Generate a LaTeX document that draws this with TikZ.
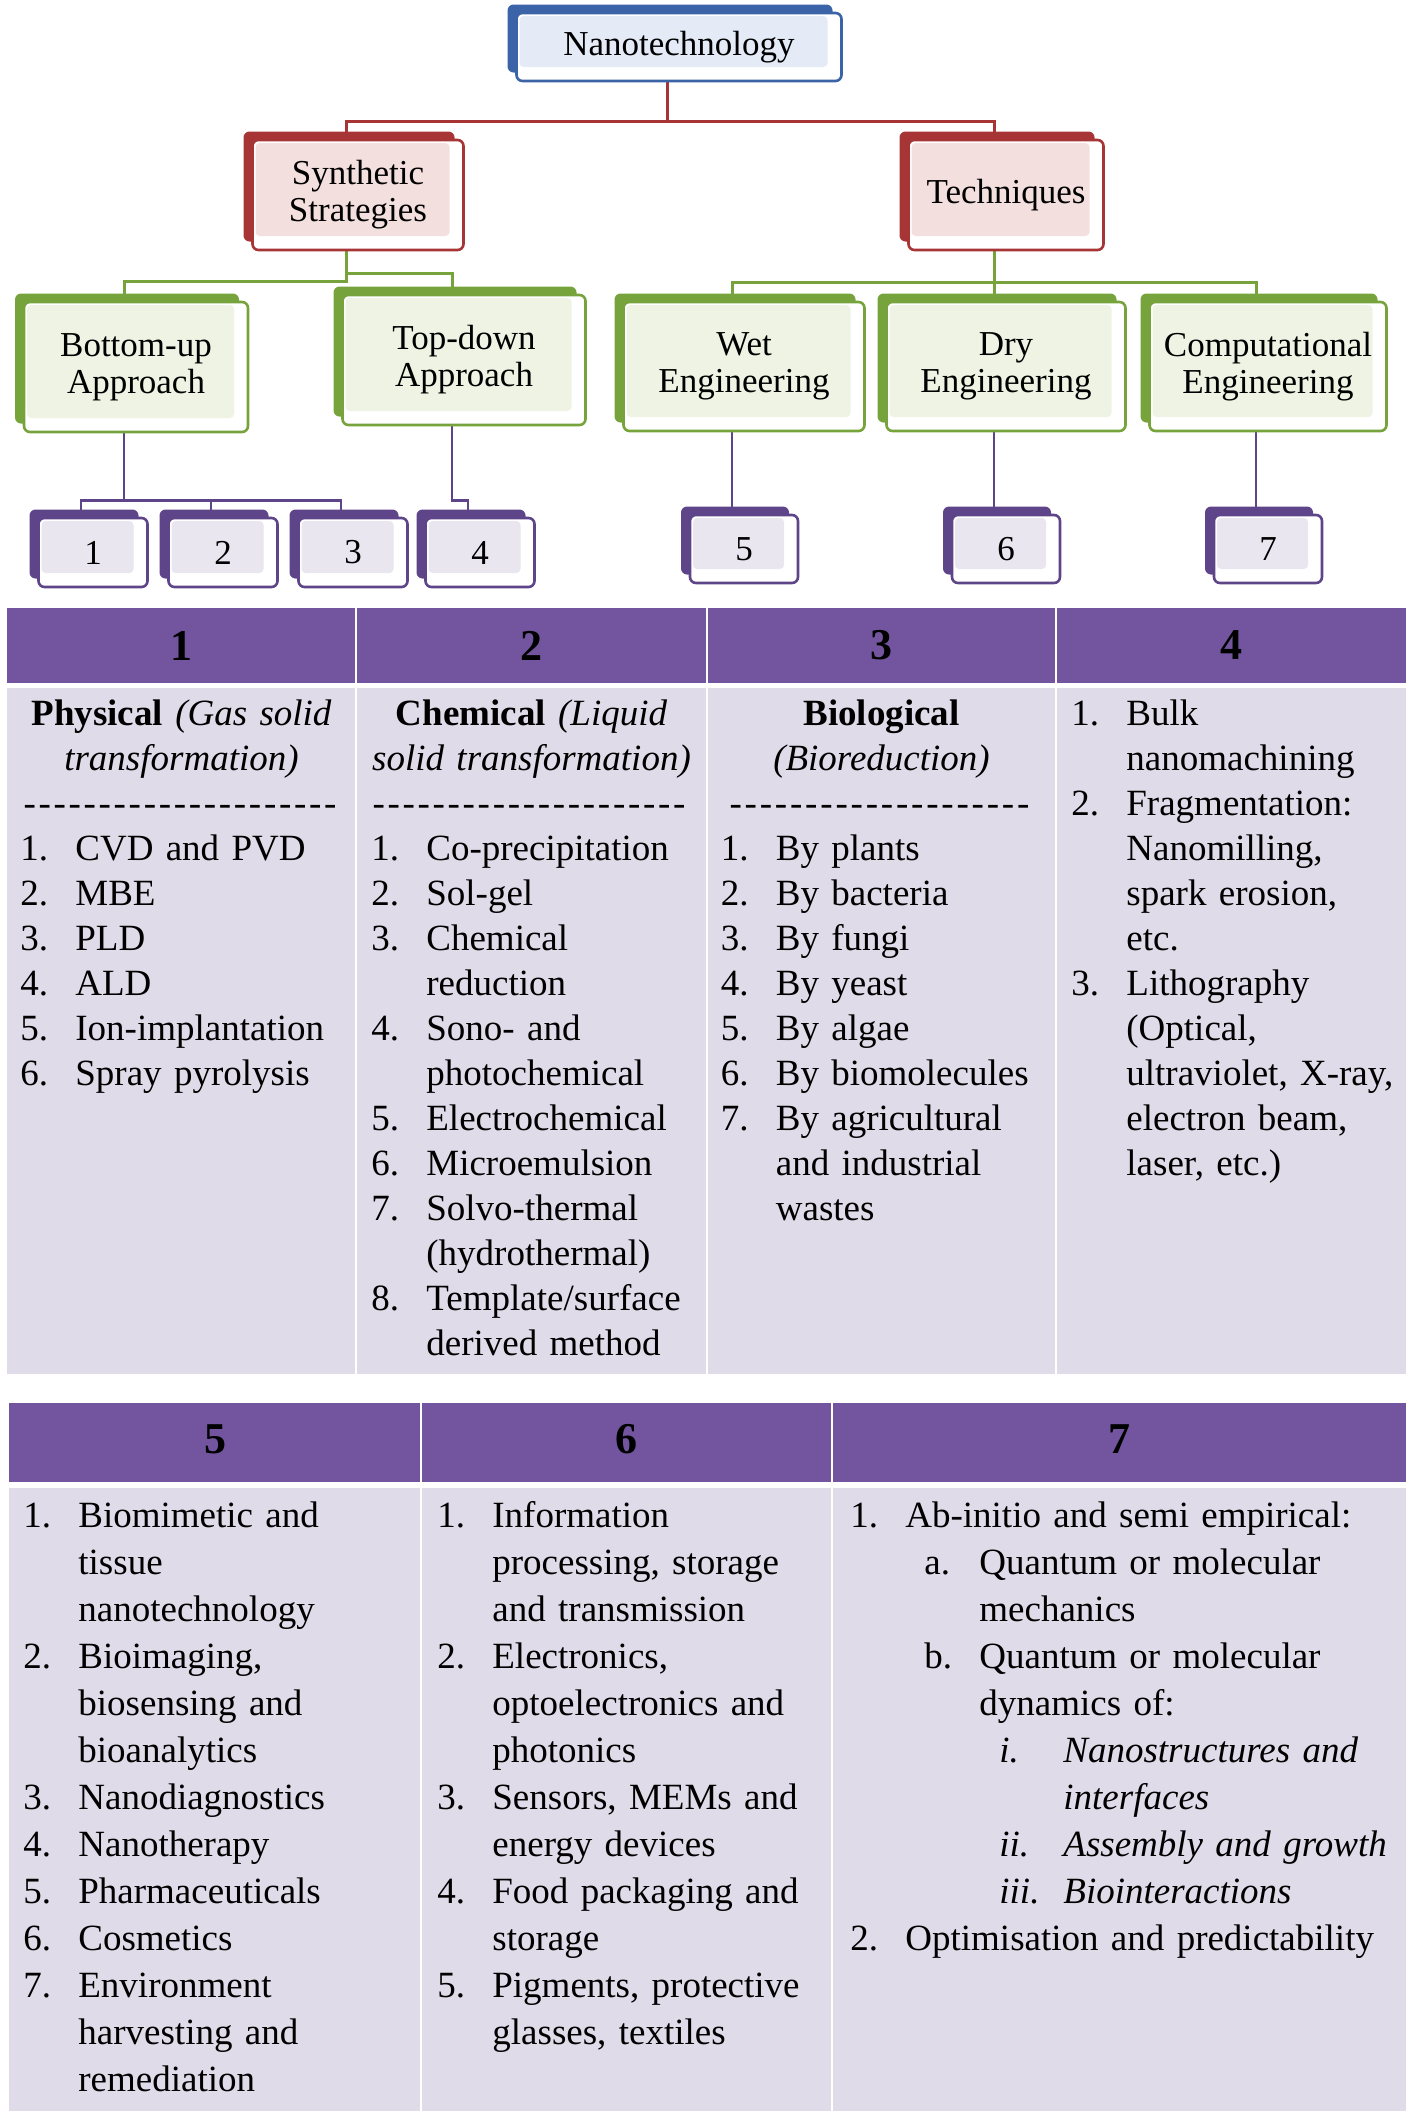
\documentclass[tikz,border=0pt]{standalone}
\usepackage{fontspec}
\setmainfont{Liberation Serif}
\usetikzlibrary{shadows,backgrounds}

\definecolor{bluedark}{HTML}{3A63A8}
\definecolor{bluelight}{HTML}{E4EBF7}
\definecolor{reddark}{HTML}{A83535}
\definecolor{redlight}{HTML}{F4DFDF}
\definecolor{greendark}{HTML}{77A33C}
\definecolor{greenlight}{HTML}{EEF3E3}
\definecolor{purpledark}{HTML}{5E4589}
\definecolor{purplelight}{HTML}{E9E6F0}
\definecolor{headfill}{HTML}{72559E}
\definecolor{cellfill}{HTML}{DFDBE8}

\newcommand\PX{0.5pt}
\newcommand\NUM[1]{\makebox[27.5pt][l]{#1}}
\newcommand\GAP{\hspace*{27.5pt}}
\newcommand\LVL[3]{\hspace*{#1}\makebox[#2][l]{#3}}
\newcommand\DASHES[1]{\hbox to #1{\xleaders\hbox{\kern0.6pt-\kern0.6pt}\hfill}}

\tikzset{
  card/.style 2 args={draw=#1, fill=white, line width=1.3pt, rounded corners=3pt,
    inner sep=0pt, align=center, font=\fontsize{17.5}{18.5}\selectfont,
    general shadow={fill=#1, shadow xshift=-4.5pt, shadow yshift=4.25pt},
    path picture={\fill[#2, rounded corners=2pt]
      ([shift={(1.5pt,-1.5pt)}]path picture bounding box.north west) rectangle
      ([shift={(-7pt,7pt)}]path picture bounding box.south east);}},
  bluebox/.style={card={bluedark}{bluelight}},
  redbox/.style={card={reddark}{redlight}},
  greenbox/.style={card={greendark}{greenlight}},
  purplebox/.style={card={purpledark}{purplelight}},
  sz/.style 2 args={minimum width=#1*\PX, minimum height=#2*\PX},
  redwire/.style={draw=reddark, line width=1.5pt},
  greenwire/.style={draw=greendark, line width=1.5pt},
  purplewire/.style={draw=purpledark, line width=1.3pt},
  hdrnum/.style={inner sep=0pt, font=\fontsize{22}{24}\selectfont\bfseries},
  colhead/.style={anchor=base, align=center, text width=172pt, inner sep=0pt,
    font=\fontsize{18.5}{22.5}\selectfont},
  collist/.style={anchor=base west, align=left, text width=280pt, inner sep=0pt,
    font=\fontsize{18.5}{#1}\selectfont}
}

\begin{document}
\begin{tikzpicture}[x=0.5pt, y=-0.5pt]
\useasboundingbox (0,0) rectangle (1418,2115);

%% tree
\node[bluebox, sz={325}{68}] (nano) at (679,47) {Nanotechnology};
\node[redbox, sz={211}{110}] (synth) at (358,195) {Synthetic\\Strategies};
\node[redbox, sz={195}{110}] (tech) at (1006,195) {Techniques};

\node[greenbox, sz={224}{130}] (bu) at (136,367) {Bottom-up\\Approach};
\node[greenbox, sz={243}{130}] (td) at (464,360) {Top-down\\Approach};
\node[greenbox, sz={241}{129}] (wet) at (744,366.5) {Wet\\Engineering};
\node[greenbox, sz={239}{129}] (dry) at (1006,366.5) {Dry\\Engineering};
\node[greenbox, sz={237}{129}] (comp) at (1268,366.5) {Computational\\Engineering};

\foreach \n/\x in {1/93,2/223,3/353,4/480}
  \node[purplebox, sz={109}{69}] (b\n) at (\x,552.5) {\n};
\foreach \n/\x in {5/744,6/1006,7/1268}
  \node[purplebox, sz={108}{68}] (b\n) at (\x,549) {\n};

\begin{scope}[on background layer]
\draw[redwire] ([xshift=-6pt]nano.south) -- ++(0,39) -| ([xshift=-6pt]synth.north);
\draw[redwire] ([xshift=-6pt]nano.south) -- ++(0,39) -| ([xshift=-6pt]tech.north);

\draw[greenwire] ([xshift=-6pt]synth.south) -- ++(0,30) -| ([xshift=-6pt]bu.north);
\draw[greenwire] ([xshift=-6pt]synth.south) -- ++(0,22) -| ([xshift=-6pt]td.north);
\draw[greenwire] ([xshift=-6pt]tech.south) -- ++(0,31) -| ([xshift=-6pt]wet.north);
\draw[greenwire] ([xshift=-6pt]tech.south) -- ++(0,31) -| ([xshift=-6pt]comp.north);
\draw[greenwire] ([xshift=-6pt]tech.south) -- ([xshift=-6pt]dry.north);

\foreach \n in {1,2,3}
  \draw[purplewire] ([xshift=-6pt]bu.south) -- ++(0,67) -| ([xshift=-6pt]b\n.north);
\draw[purplewire] ([xshift=-6pt]td.south) -- ++(0,74) -| ([xshift=-6pt]b4.north);
\draw[purplewire] ([xshift=-6pt]wet.south) -- ([xshift=-6pt]b5.north);
\draw[purplewire] ([xshift=-6pt]dry.south) -- ([xshift=-6pt]b6.north);
\draw[purplewire] ([xshift=-6pt]comp.south) -- ([xshift=-6pt]b7.north);
\end{scope}

%% table 1 to 4
\fill[headfill] (7,608) rectangle (1406,683);
\fill[cellfill] (7,688) rectangle (1406,1374);
\foreach \x in {356,707,1056}
  \draw[white, line width=1pt] (\x,608) -- (\x,1374);
\foreach \n/\x in {1/181.5,2/531.5,3/881.5,4/1231}
  \node[hdrnum] (h\n) at (\x,645.5) {\n};

\node[colhead] (physhead) at (181.5,725) {\textbf{Physical} \textit{(Gas solid}\\\textit{transformation)}};
\node[colhead] (chemhead) at (531.5,725) {\textbf{Chemical} \textit{(Liquid}\\\textit{solid transformation)}};
\node[colhead] (biohead) at (881.5,725) {\textbf{Biological}\\\textit{(Bioreduction)}};
\node[colhead] (physdash) at (180,815) {\DASHES{158pt}};
\node[colhead] (chemdash) at (529,815) {\DASHES{158pt}};
\node[colhead] (biodash) at (879.5,815) {\DASHES{151.5pt}};

\node[collist=22.5pt] (physlist) at (20,860) {\NUM{1.}CVD and PVD\\
\NUM{2.}MBE\\
\NUM{3.}PLD\\
\NUM{4.}ALD\\
\NUM{5.}Ion-implantation\\
\NUM{6.}Spray pyrolysis};
\node[collist=22.5pt] (chemlist) at (371,860) {\NUM{1.}Co-precipitation\\
\NUM{2.}Sol-gel\\
\NUM{3.}Chemical\\
\GAP reduction\\
\NUM{4.}Sono- and\\
\GAP photochemical\\
\NUM{5.}Electrochemical\\
\NUM{6.}Microemulsion\\
\NUM{7.}Solvo-thermal\\
\GAP (hydrothermal)\\
\NUM{8.}Template/surface\\
\GAP derived method};
\node[collist=22.5pt] (biolist) at (720.5,860) {\NUM{1.}By plants\\
\NUM{2.}By bacteria\\
\NUM{3.}By fungi\\
\NUM{4.}By yeast\\
\NUM{5.}By algae\\
\NUM{6.}By biomolecules\\
\NUM{7.}By agricultural\\
\GAP and industrial\\
\GAP wastes};
\node[collist=22.5pt] (toplist) at (1071,725) {\NUM{1.}Bulk\\
\GAP nanomachining\\
\NUM{2.}Fragmentation:\\
\GAP Nanomilling,\\
\GAP spark erosion,\\
\GAP etc.\\
\NUM{3.}Lithography\\
\GAP (Optical,\\
\GAP ultraviolet, X-ray,\\
\GAP electron beam,\\
\GAP laser, etc.)};

%% table 5 to 7
\fill[headfill] (9,1403) rectangle (1406,1482);
\fill[cellfill] (9,1488) rectangle (1406,2111);
\foreach \x in {421,832}
  \draw[white, line width=1pt] (\x,1403) -- (\x,2111);
\foreach \n/\x in {5/215,6/626.5,7/1119}
  \node[hdrnum] (h\n) at (\x,1439) {\n};

\node[collist=23.5pt] (wetlist) at (23,1527) {\NUM{1.}Biomimetic and\\
\GAP tissue\\
\GAP nanotechnology\\
\NUM{2.}Bioimaging,\\
\GAP biosensing and\\
\GAP bioanalytics\\
\NUM{3.}Nanodiagnostics\\
\NUM{4.}Nanotherapy\\
\NUM{5.}Pharmaceuticals\\
\NUM{6.}Cosmetics\\
\NUM{7.}Environment\\
\GAP harvesting and\\
\GAP remediation};
\node[collist=23.5pt] (drylist) at (437,1527) {\NUM{1.}Information\\
\GAP processing, storage\\
\GAP and transmission\\
\NUM{2.}Electronics,\\
\GAP optoelectronics and\\
\GAP photonics\\
\NUM{3.}Sensors, MEMs and\\
\GAP energy devices\\
\NUM{4.}Food packaging and\\
\GAP storage\\
\NUM{5.}Pigments, protective\\
\GAP glasses, textiles};
\node[collist=23.5pt] (complist) at (850,1527) {\NUM{1.}Ab-initio and semi empirical:\\
\LVL{37pt}{27.5pt}{a.}Quantum or molecular\\
\hspace*{64.5pt}mechanics\\
\LVL{37pt}{27.5pt}{b.}Quantum or molecular\\
\hspace*{64.5pt}dynamics of:\\
\LVL{74.5pt}{32pt}{\textit{i.}}\textit{Nanostructures and}\\
\hspace*{106.5pt}\textit{interfaces}\\
\LVL{74.5pt}{32pt}{\textit{ii.}}\textit{Assembly and growth}\\
\LVL{74.5pt}{32pt}{\textit{iii.}}\textit{Biointeractions}\\
\NUM{2.}Optimisation and predictability};
\end{tikzpicture}
\end{document}
